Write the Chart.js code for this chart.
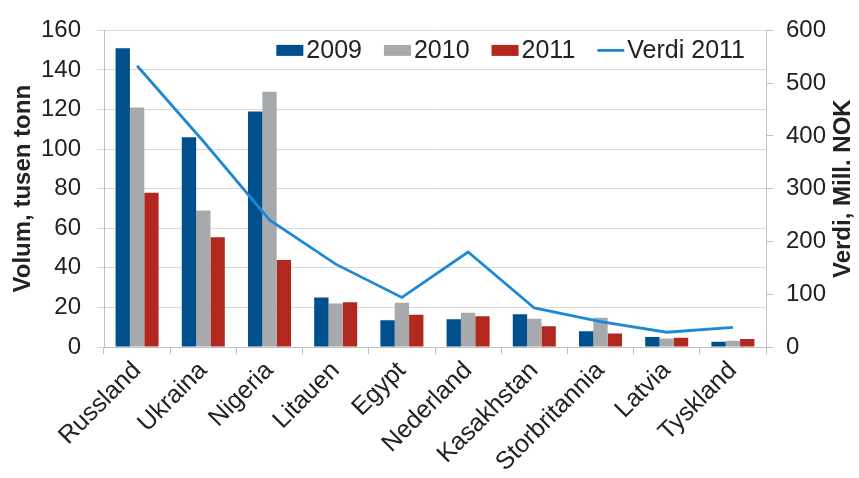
<!DOCTYPE html>
<html>
<head>
<meta charset="utf-8">
<script src="https://cdn.jsdelivr.net/npm/chart.js@4.4.1/dist/chart.umd.min.js"></script>
<style>
  html, body { margin: 0; padding: 0; background: #fff; }
  #wrap { width: 859px; height: 478px; }
</style>
</head>
<body>
<div id="wrap"><canvas id="exportChart"></canvas></div>
<script>
const countries = ['Russland', 'Ukraina', 'Nigeria', 'Litauen', 'Egypt', 'Nederland', 'Kasakhstan', 'Storbritannia', 'Latvia', 'Tyskland'];
const volum2009 = [151, 106, 119, 25, 13.5, 14, 16.5, 8, 5, 2.7];
const volum2010 = [121, 69, 129, 22, 22.3, 17.3, 14.3, 14.8, 4.3, 3.2];
const volum2011 = [78, 55.5, 44, 22.6, 16.3, 15.5, 10.5, 6.8, 4.7, 4];
const verdi2011 = [533, 390, 241, 157, 94, 180, 74, 48, 28, 37];

const volumTicks = [0, 20, 40, 60, 80, 100, 120, 140, 160];
const verdiTicks = [0, 100, 200, 300, 400, 500, 600];

const textColor = '#222';
const fontFamily = '"Liberation Sans", Arial, sans-serif';

// legend sits inside the plot, and the right title reads bottom-to-top, so both are drawn here
const extras = {
    id: 'extras',
    afterDraw(chart) {
        const ctx = chart.ctx;
        const area = chart.chartArea;
        ctx.save();

        // legend: bars first, line last
        const items = [1, 2, 3, 0].map(i => chart.data.datasets[i]);
        ctx.font = '25px ' + fontFamily;
        const boxW = 27, gap = 3, spacing = 22;
        let total = 0;
        items.forEach((ds, k) => {
            total += boxW + gap + ctx.measureText(ds.label).width + (k < items.length - 1 ? spacing : 0);
        });
        let x = area.right - 21 - total;
        const y = area.top + 20;
        ctx.textBaseline = 'middle';
        ctx.textAlign = 'left';
        items.forEach(ds => {
            if (ds.type === 'line') {
                ctx.strokeStyle = ds.borderColor;
                ctx.lineWidth = ds.borderWidth;
                ctx.beginPath();
                ctx.moveTo(x, y);
                ctx.lineTo(x + boxW, y);
                ctx.stroke();
            } else {
                ctx.fillStyle = ds.backgroundColor;
                ctx.fillRect(x, y - 5.5, boxW, 11);
            }
            x += boxW + gap;
            ctx.fillStyle = textColor;
            ctx.fillText(ds.label, x, y + 1);
            x += ctx.measureText(ds.label).width + spacing;
        });

        // right axis title
        ctx.translate(843, (area.top + area.bottom) / 2);
        ctx.rotate(-Math.PI / 2);
        ctx.font = 'bold 24px ' + fontFamily;
        ctx.textAlign = 'center';
        ctx.fillText('Verdi, Mill. NOK', 0, 0);
        ctx.restore();
    }
};

document.addEventListener('DOMContentLoaded', function () {
    const ctx = document.getElementById('exportChart').getContext('2d');
    new Chart(ctx, {
        data: {
            labels: countries,
            datasets: [
                { type: 'line', label: 'Verdi 2011', data: verdi2011, yAxisID: 'yVerdi',
                  borderColor: '#1E88D3', backgroundColor: '#1E88D3', borderWidth: 2.8,
                  pointRadius: 0, tension: 0, order: 0 },
                { type: 'bar', label: '2009', data: volum2009, yAxisID: 'yVolum', backgroundColor: '#00508D', order: 1 },
                { type: 'bar', label: '2010', data: volum2010, yAxisID: 'yVolum', backgroundColor: '#A7A9AC', order: 1 },
                { type: 'bar', label: '2011', data: volum2011, yAxisID: 'yVolum', backgroundColor: '#B2281E', order: 1 }
            ]
        },
        options: {
            responsive: true,
            maintainAspectRatio: false,
            animation: false,
            layout: { padding: { left: 0, right: 0, top: 11, bottom: 0 } },
            datasets: { bar: { barPercentage: 1, categoryPercentage: 0.65 } },
            plugins: {
                tooltip: { enabled: false },
                legend: { display: false }
            },
            scales: {
                x: {
                    afterFit(scale) { scale.height = 131; },
                    grid: { drawOnChartArea: false, drawTicks: true, tickLength: 7, color: '#BFBFBF' },
                    border: { color: '#BFBFBF' },
                    ticks: { color: textColor, font: { family: fontFamily, size: 25 }, maxRotation: 45, minRotation: 45, padding: 2 }
                },
                yVolum: {
                    position: 'left',
                    min: 0, max: 160,
                    afterFit(scale) { scale.width = 104; },
                    afterBuildTicks(axis) { axis.ticks = volumTicks.map(v => ({ value: v })); },
                    grid: { color: '#D9D9D9', tickLength: 7 },
                    border: { color: '#BFBFBF' },
                    ticks: { color: textColor, font: { family: fontFamily, size: 24 }, padding: 16 },
                    title: { display: true, text: 'Volum, tusen tonn', color: textColor,
                             font: { family: fontFamily, size: 24, weight: 'bold' }, padding: 9 }
                },
                yVerdi: {
                    position: 'right',
                    min: 0, max: 600,
                    afterFit(scale) { scale.width = 93; },
                    afterBuildTicks(axis) { axis.ticks = verdiTicks.map(v => ({ value: v })); },
                    grid: { drawOnChartArea: false, color: '#BFBFBF', tickLength: 7 },
                    border: { color: '#BFBFBF' },
                    ticks: { color: textColor, font: { family: fontFamily, size: 24 }, padding: 13 }
                }
            }
        },
        plugins: [extras]
    });
});
</script>
</body>
</html>
